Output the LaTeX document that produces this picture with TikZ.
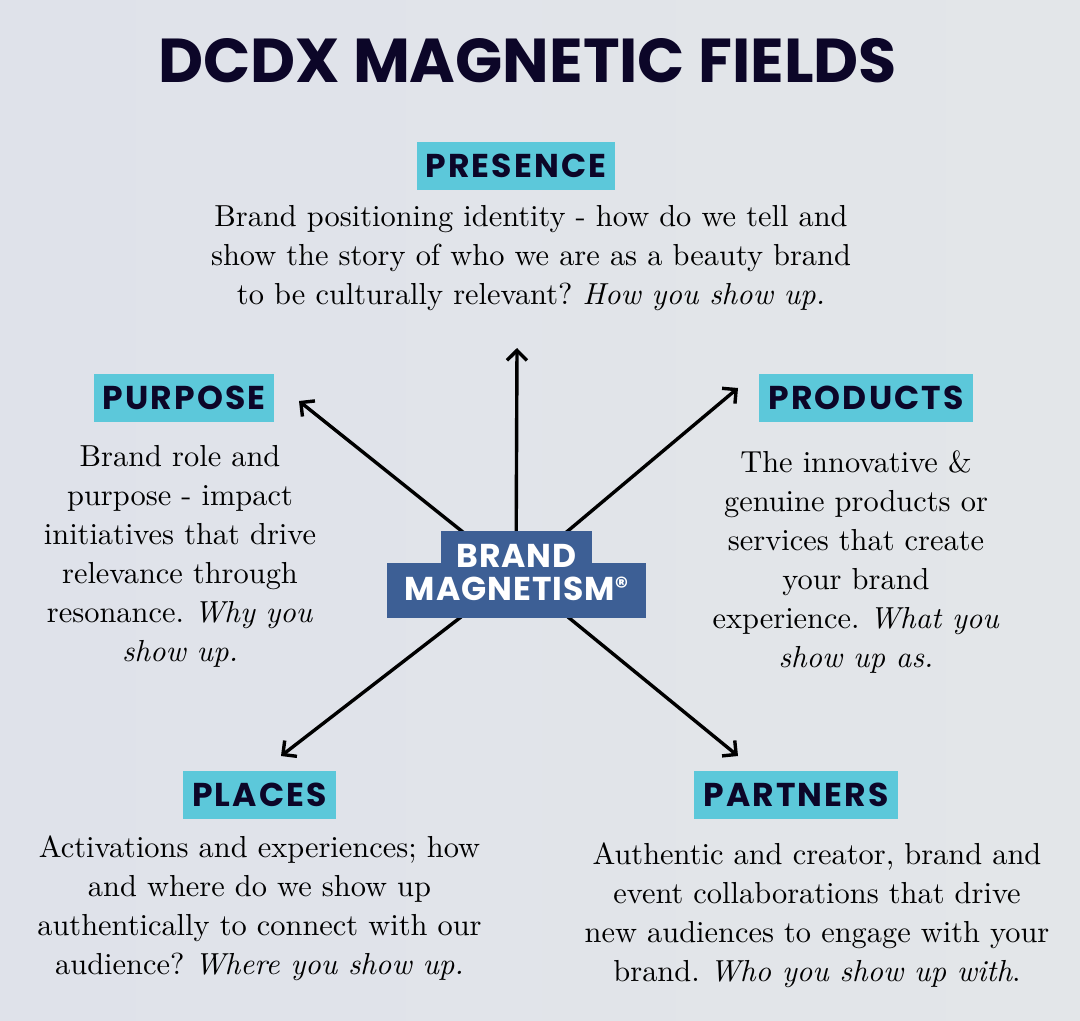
\documentclass[tikz,border=0pt]{standalone}
\usepackage{fontspec}
\setmainfont{lmroman10-regular.otf}[ItalicFont=lmroman10-italic.otf]
\newfontfamily\headfont{Poppins}
\newfontfamily\tagfont{Poppins}[LetterSpace=6.5]
\newfontfamily\hubfont{Poppins}[LetterSpace=3]
\usetikzlibrary{
    arrows.meta,
    positioning
}
\definecolor{navy}{RGB}{12,6,40}
\definecolor{tagcyan}{RGB}{92,200,218}
\definecolor{hubblue}{RGB}{61,95,149}
\definecolor{bgleft}{RGB}{223,226,234}
\definecolor{bgright}{RGB}{227,230,233}
\tikzset{
    % Colors
    title color/.style={navy},
    tag color/.style={fill=tagcyan},
    hub color/.style={fill=hubblue},
    %
    % Nodes
    title text/.style={title color,inner sep=0pt,font=\headfont\bfseries\fontsize{31}{31}\selectfont},
    field tag/.style={tag color,text=navy,inner xsep=4.5pt,inner ysep=0pt,minimum height=24pt,font=\tagfont\bfseries\fontsize{16.5}{16.5}\selectfont},
    field text/.style={inner sep=0pt,align=center,text=black,font=\frenchspacing\fontsize{15.2}{19.5}\selectfont},
    hub part/.style={hub color,inner sep=0pt,minimum width=#1},
    hub text/.style={text=white,inner sep=0pt,align=center,font=\hubfont\bfseries\fontsize{16.5}{16.5}\selectfont},
    %
    % Arrows
    arrow tip/.tip={Straight Barb[length=5pt,width=10pt]},
    arr/.style={->,>={arrow tip},line width=1.7pt}
}

\begin{document}
\begin{tikzpicture}[x=0.5pt,y=-0.5pt]
    \shade[left color=bgleft,right color=bgright] (0,0) rectangle (1080,1021);
    \useasboundingbox (0,0) rectangle (1080,1021);

    \node[title text] (title) at (527.5,61) {DCDX MAGNETIC FIELDS};

    % arrows from the hub
    \coordinate (hub) at (516,574.5);
    \coordinate (tipN) at (517,348);
    \coordinate (tipNW) at (299,401);
    \coordinate (tipNE) at (738,388);
    \coordinate (tipSW) at (281,756);
    \coordinate (tipSE) at (738,756);
    \foreach \t in {tipN,tipNW,tipNE,tipSW,tipSE}
        \draw[arr] (hub) -- (\t);

    \node[hub part=75.5pt, minimum height=16pt] (brandtop) at (516.5,547) {};
    \node[hub part=129.5pt, minimum height=27.5pt] (brandbot) at (516.5,590.5) {};
    \node[hub text] (brand) at (516.5,573) {BRAND\\MAGNETISM{\fontsize{13}{13}\selectfont\raisebox{2.5pt}{®}}};

    % the five fields
    \node[field tag] (presence) at (516,166) {PRESENCE};
    \node[field tag] (purpose) at (184,398) {PURPOSE};
    \node[field tag] (products) at (866,398) {PRODUCTS};
    \node[field tag] (places) at (259.5,795) {PLACES};
    \node[field tag] (partners) at (796,795) {PARTNERS};

    \node[field text, below=7.5pt of presence, xshift=7.5pt] (presencetext)
        {Brand positioning identity - how do we tell and\\show the story of who we are as a beauty brand\\to be culturally relevant? \textit{How you show up.}};
    \node[field text, below=11.5pt of purpose, xshift=-2pt] (purposetext)
        {Brand role and\\purpose - impact\\initiatives that drive\\relevance through\\resonance. \textit{Why you}\\\textit{show up.}};
    \node[field text, below=14pt of products, xshift=-5pt] (productstext)
        {The innovative \&\\genuine products or\\services that create\\your brand\\experience. \textit{What you}\\\textit{show up as.}};
    \node[field text, below=8pt of places] (placestext)
        {Activations and experiences; how\\and where do we show up\\authentically to connect with our\\audience? \textit{Where you show up.}};
    \node[field text, below=11.5pt of partners, xshift=10.5pt] (partnerstext)
        {Authentic and creator, brand and\\event collaborations that drive\\new audiences to engage with your\\brand. \textit{Who you show up with}.};
\end{tikzpicture}
\end{document}
